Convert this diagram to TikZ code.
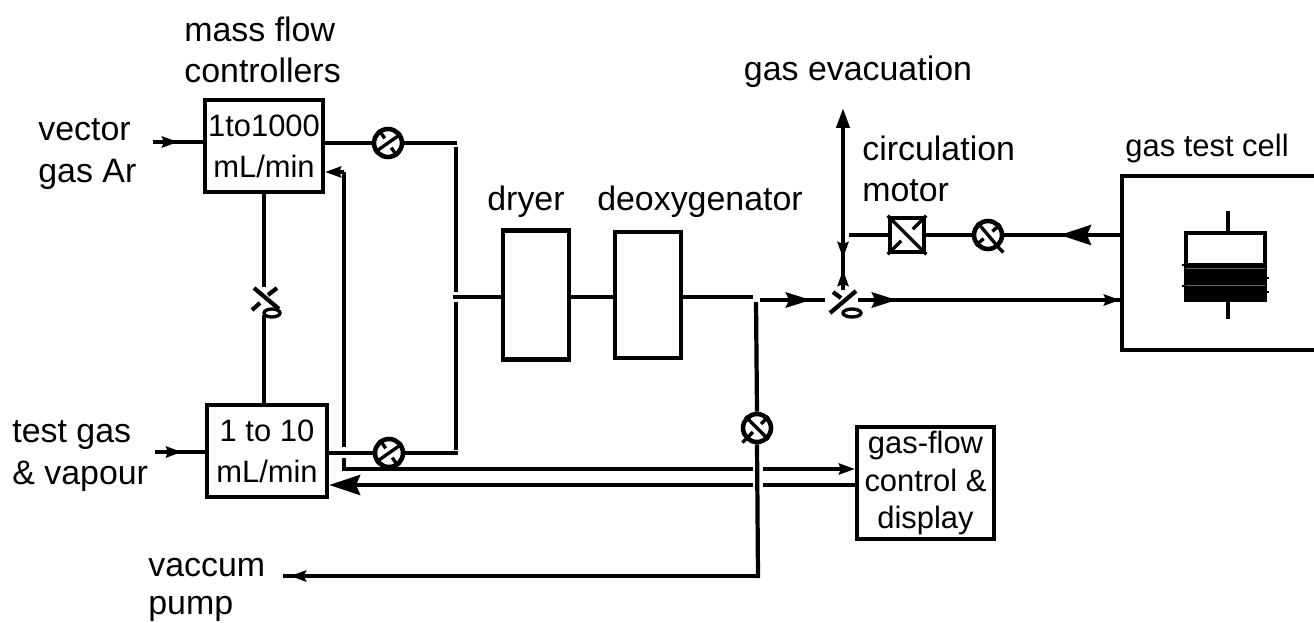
\documentclass[tikz,border=0pt]{standalone}
\usepackage{fontspec}
\setmainfont{Liberation Sans}
\usetikzlibrary{arrows.meta,calc}
\tikzset{
	pipe/.style={line width=2.4pt},
	thinpipe/.style={line width=1.9pt},
	flow/.style={pipe, -{Stealth[length=0.62cm, width=0.4cm, inset=0.08cm]}},
	midflow/.style={pipe, -{Stealth[length=0.5cm, width=0.3cm, inset=0.06cm]}},
	smallflow/.style={pipe, -{Stealth[length=0.32cm, width=0.22cm, inset=0.04cm]}},
	slimflow/.style={pipe, -{Stealth[length=0.4cm, width=0.26cm, inset=0cm]}},
	unit/.style={draw, line width=2.4pt, inner sep=0, align=center, font=\fontsize{17.6}{23.5}\selectfont},
	label/.style={inner sep=0, align=left, font=\fontsize{19.3}{23.5}\selectfont},
	valve/.style={draw, circle, line width=2.6pt, minimum size=0.56cm, inner sep=0},
	switch/.style={inner sep=0, minimum size=0.44cm}
}
% cross mark of a valve: name, angle of the full bar
\newcommand{\valvemark}[2]{
	\draw[thinpipe] (#1.#2) -- (#1.#2+180);
	\draw[thinpipe] (#1.#2+90) -- ($(#1.center)!0.35!(#1.#2+90)$);
	\draw[thinpipe] (#1.#2-90) -- ($(#1.center)!0.35!(#1.#2-90)$);
}

\begin{document}
\begin{tikzpicture}[x=0.02cm, y=-0.02cm]
	%%%%% FRAME %%%%%
	\useasboundingbox (0, 0) rectangle (1314, 622);
	\clip (0, 0) rectangle (1314, 622);

	%%%%% LABELS %%%%%
	\node[label, anchor=west] (lmfc) at (184, 50) {mass flow\\controllers};
	\node[label, anchor=west] (lvector) at (38, 154) {vector\\gas Ar};
	\node[label, anchor=west] (ltest) at (12, 456) {test gas\\\& vapour};
	\node[label, anchor=west, font=\fontsize{19.3}{21.2}\selectfont] (lvacuum) at (148, 590) {vaccum\\pump};
	\node[label] (ldryer) at (526, 202) {dryer};
	\node[label] (ldeox) at (700, 202) {deoxygenator};
	\node[label] (levac) at (858, 72) {gas evacuation};
	\node[label, anchor=west] (lmotor) at (862, 169) {circulation\\motor};
	\node[label, font=\fontsize{17.6}{23.5}\selectfont] (lcell) at (1207, 149) {gas test cell};

	%%%%% UNITS %%%%%
	\node[unit, minimum width=2.36cm, minimum height=1.84cm] (mfca) at (264, 146) {1to1000\\mL/min};
	\node[unit, minimum width=2.4cm, minimum height=1.84cm] (mfcb) at (267, 451) {1 to 10\\mL/min};
	\node[unit, minimum width=1.32cm, minimum height=2.58cm] (dryer) at (536, 295) {};
	\node[unit, minimum width=1.32cm, minimum height=2.52cm] (deox) at (648, 295) {};
	\node[unit, minimum width=2.74cm, minimum height=2.24cm, font=\fontsize{17.6}{21.3}\selectfont] (display) at (925.5, 483) {gas-flow\\control \&\\display};
	\node[unit, minimum width=4.4cm, minimum height=3.48cm] (cell) at (1232, 263) {};

	\node[valve] (valvea) at (388, 143) {};
	\node[valve] (valveb) at (389, 453) {};
	\node[valve] (valvec) at (988, 235) {};
	\node[valve] (valved) at (757, 428) {};
	\valvemark{valvea}{35}
	\valvemark{valveb}{35}
	\valvemark{valvec}{-50}
	\valvemark{valved}{-45}
	\draw[thinpipe] (valvec.-50) -- +(5, 5);
	\draw[thinpipe] (valved.-135) -- +(-3, 3);

	%%%%% MOTOR %%%%%
	\node[draw, line width=2.6pt, minimum size=0.68cm, inner sep=0] (motor) at (907, 235) {};
	\draw[thinpipe] (motor.north west) -- (motor.south east);
	\draw[thinpipe] (motor.north east) -- ($(motor.center)!0.3!(motor.north east)$);
	\draw[thinpipe] (motor.south west) -- ($(motor.center)!0.3!(motor.south west)$);

	%%%%% SWITCHES %%%%%
	\node[switch] (switcha) at (264, 298) {};
	\draw[pipe] (254, 288) -- (279, 309);
	\draw[pipe] (277, 288) -- (268, 295);
	\draw[pipe] (252, 310) -- (260, 303);
	\draw[thinpipe] (272, 313) ellipse (8 and 4);

	\node[switch] (switchb) at (843, 299) {};
	\draw[pipe] (830, 313) -- (856, 291);
	\draw[pipe] (833, 292) -- (841, 298);
	\draw[thinpipe] (852, 313) ellipse (9 and 4);

	%%%%% PIPES %%%%%
	\coordinate (busa) at (456, 147);
	\coordinate (busb) at (456, 292);
	\coordinate (busc) at (456, 302);
	\coordinate (busd) at (456, 450);
	\coordinate (vectorin) at (153, 142);
	\coordinate (testin) at (155, 452);

	\draw[pipe] (vectorin) -- (mfca.west |- vectorin);
	\draw[smallflow] (vectorin) -- (178, 142);
	\draw[pipe] (testin) -- (mfcb.west |- testin);
	\draw[smallflow] (testin) -- (182, 452);

	\draw[pipe] (mfca.east |- valvea) -- (valvea.west);
	\draw[pipe] (valvea.east) -- (457, 143);
	\draw[pipe] (mfcb.east |- valveb) -- (valveb.west);
	\draw[pipe] (valveb.east) -- (458, 453);
	\draw[pipe] (busa) -- (busb);
	\draw[pipe] (busc) -- (busd);
	\coordinate (joint) at (453, 297);
	\draw[thinpipe] (joint) -- (dryer.west |- joint);
	\draw[thinpipe] (dryer.east |- joint) -- (deox.west |- joint);
	\draw[pipe] (deox.east |- joint) -- (753, 297);

	\draw[pipe] (mfca.south) -- (switcha.north);
	\draw[pipe] (switcha.south) ++(0, 6) -- (mfcb.north -| switcha);

	%%%%% CONTROL LINES %%%%%
	\coordinate (sensorbend) at (344, 172);
	\coordinate (sensorout) at (344, 469);
	\coordinate (sensorback) at (763, 485);
	\draw[smallflow] (sensorbend) -- (mfca.east |- sensorbend);
	\draw[pipe] (sensorbend) -- (344, 447);
	\draw[pipe] (344, 458) -- (sensorout) -- (753, 469);
	\draw[smallflow] (763, 469) -- (display.west |- sensorout);
	\draw[pipe] (display.west |- sensorback) -- (sensorback);
	\draw[flow] (753, 485) -- (mfcb.east |- sensorback);

	%%%%% VACUUM LINE %%%%%
	\draw[pipe] (756, 302) -- (valved.north);
	\draw[pipe] (valved.south) -- (758, 578);
	\coordinate (pumpout) at (283, 576);
	\draw[pipe] (758, 576) -- (pumpout);
	\draw[smallflow] (310, 576) -- (290, 576);

	%%%%% RIGHT SIDE %%%%%
	\draw[pipe] (760, 300) -- (825, 300);
	\draw[midflow] (790, 300) -- (811, 300);
	\draw[pipe] (858, 300) -- (cell.west |- 0, 300);
	\draw[midflow] (872, 300) -- (897, 300);
	\draw[smallflow] (1095, 300) -- (cell.west |- 0, 300);

	\draw[slimflow] (843, 290) -- (843, 108);
	\draw[smallflow] (843, 240) -- (843, 258);
	\draw[smallflow] (843, 285) -- (843, 270);
	\draw[pipe] (849, 235) -- (motor.west);
	\draw[pipe] (motor.east) -- (valvec.west);
	\draw[pipe] (cell.west |- valvec) -- (valvec.east);
	\draw[flow] (1095, 235) -- (1060, 235);

	%%%%% TEST CELL %%%%%
	\draw[pipe] (1186, 233) rectangle (1265, 300);
	\draw[fill=black] (1185, 263) rectangle (1266, 300);
	\draw[pipe] (1228, 211) -- (1228, 233);
	\draw[pipe] (1228, 300) -- (1228, 319);
	\draw[line width=0.5pt, color=black!60] (1186, 268) -- (1265, 268);
	\draw[line width=0.5pt, color=black!60] (1186, 285) -- (1265, 285);
	\draw[line width=1.5pt] (1182, 265) -- (1186, 265);
	\draw[line width=1.5pt] (1182, 286) -- (1186, 286);
	\draw[line width=1.5pt] (1265, 278) -- (1269, 278);
	\draw[line width=1.5pt] (1265, 292) -- (1269, 292);
\end{tikzpicture}
\end{document}
